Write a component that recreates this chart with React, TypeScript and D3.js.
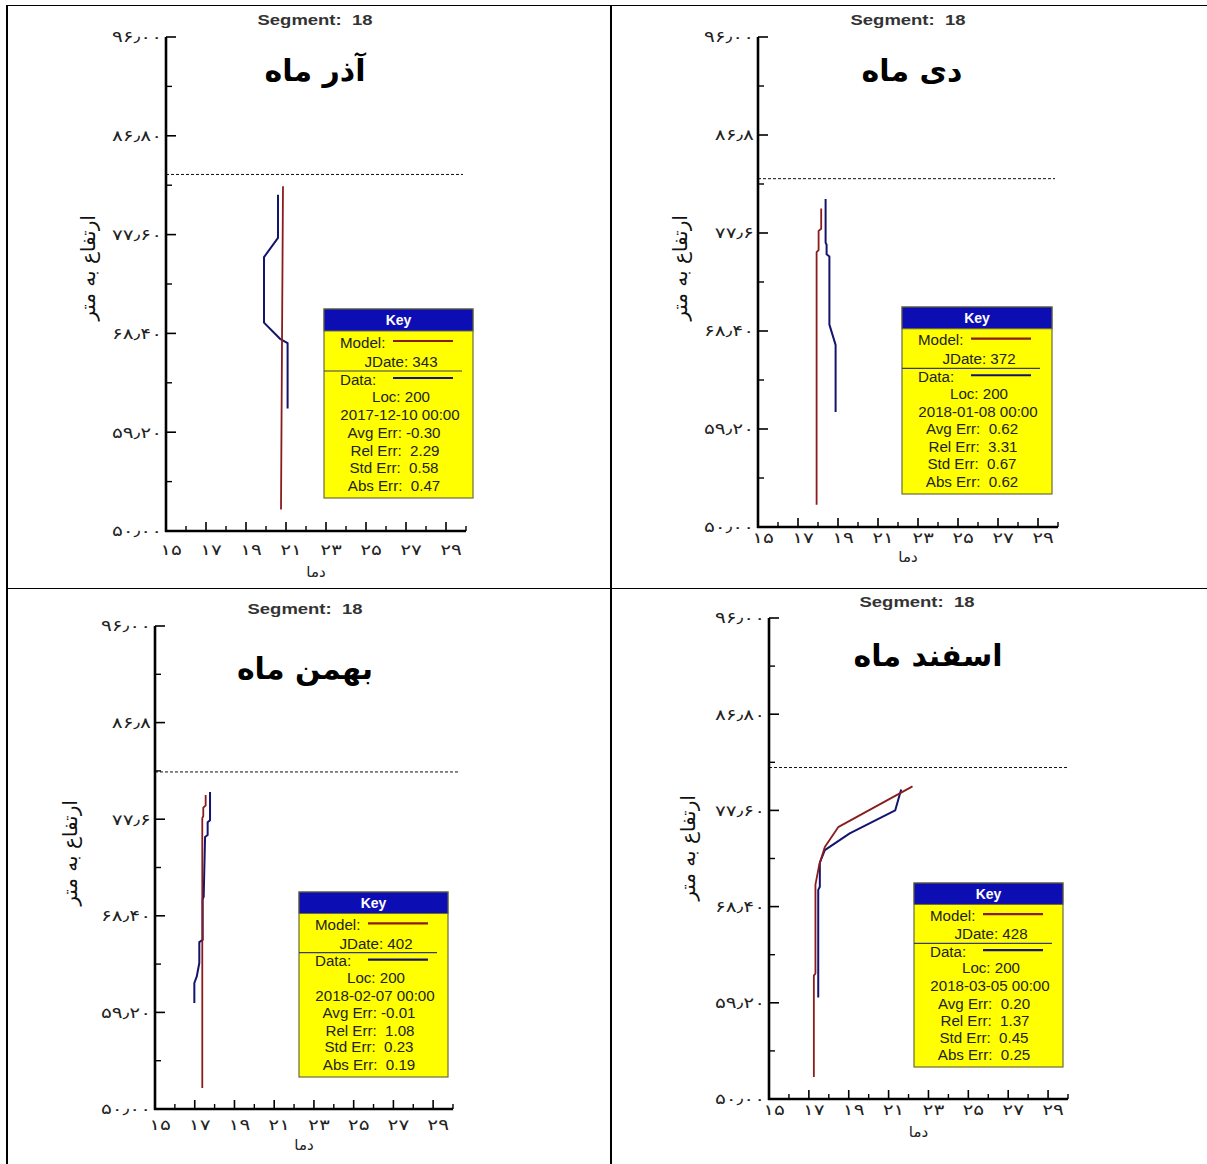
import React from 'react';
import * as d3 from 'd3';

// ---------- data ----------
const monthTitles = ['آذر ماه', 'دی ماه', 'بهمن ماه', 'اسفند ماه'];
const segmentNo = 18;
const jDates = [343, 372, 402, 428];
const locs = [200, 200, 200, 200];
const dateTimes = ['2017-12-10 00:00', '2018-01-08 00:00', '2018-02-07 00:00', '2018-03-05 00:00'];
const avgErr = ['-0.30', ' 0.62', '-0.01', ' 0.20'];
const relErr = ['2.29', '3.31', '1.08', '1.37'];
const stdErr = ['0.58', '0.67', '0.23', '0.45'];
const absErr = ['0.47', '0.62', '0.19', '0.25'];
const surfaceLevel = [83.2, 82.7, 82.1, 81.7];

const xTickValues = [15, 17, 19, 21, 23, 25, 27, 29];
const xTickLabels = ['۱۵', '۱۷', '۱۹', '۲۱', '۲۳', '۲۵', '۲۷', '۲۹'];
const xMinorValues = [16, 18, 20, 22, 24, 26, 28, 30];
const yTickValues = [50, 59.2, 68.4, 77.6, 86.8, 96];
const yMinorValues = [54.6, 63.8, 73, 82.2, 91.4];
const yTickLabelsA = ['۵۰٫۰۰', '۵۹٫۲۰', '۶۸٫۴۰', '۷۷٫۶۰', '۸۶٫۸۰', '۹۶٫۰۰'];
const yTickLabelsB = ['۵۰٫۰۰', '۵۹٫۲۰', '۶۸٫۴۰', '۷۷٫۶', '۸۶٫۸', '۹۶٫۰۰'];
const xAxisTitle = 'دما';
const yAxisTitle = 'ارتفاع به متر';

// [temperature, elevation]
const model1: [number, number][] = [[20.85, 82.1], [20.8, 67.5], [20.75, 52.0]];
const data1: [number, number][] = [[20.6, 81.3], [20.6, 77.3], [19.9, 75.5], [19.9, 69.4], [20.7, 67.9], [21.08, 67.5], [21.08, 61.4]];
const model2: [number, number][] = [[18.16, 79.9], [18.16, 78.0], [18.03, 77.8], [18.03, 76.0], [17.93, 75.8], [17.93, 52.1]];
const data2: [number, number][] = [[18.38, 80.8], [18.38, 76.7], [18.43, 76.5], [18.43, 75.6], [18.57, 75.4], [18.57, 69.0], [18.88, 67.1], [18.88, 60.8]];
const model3: [number, number][] = [[17.55, 79.9], [17.55, 78.9], [17.43, 78.7], [17.43, 77.9], [17.38, 77.7], [17.38, 52.0]];
const data3: [number, number][] = [[17.77, 80.2], [17.77, 77.5], [17.65, 77.3], [17.65, 76.1], [17.52, 75.9], [17.45, 70.2], [17.4, 70.0], [17.4, 66.1], [17.23, 65.9], [17.23, 63.9], [17.1, 62.6], [16.98, 62.0], [16.98, 60.1]];
const model4: [number, number][] = [[22.2, 79.9], [18.47, 76.0], [17.8, 74.1], [17.52, 72.4], [17.33, 70.5], [17.33, 62.0], [17.25, 61.8], [17.25, 52.1]];
const data4: [number, number][] = [[21.63, 79.6], [21.33, 77.6], [19.05, 75.4], [17.8, 73.8], [17.55, 72.6], [17.55, 70.3], [17.47, 70.0], [17.47, 59.7]];

const modelSeries = [model1, model2, model3, model4];
const dataSeries = [data1, data2, data3, data4];

// ---------- layout ----------
type Layout = {
  x0: number; x1: number; yTop: number; yBot: number; dashEnd: number;
  seg: [number, number]; title: [number, number]; ylab: [number, number];
  xlabDy: number; xtickDy: number; key: [number, number, number, number]; yLabels: string[];
};
const layouts: Layout[] = [
  { x0: 166, x1: 466, yTop: 37, yBot: 531, dashEnd: 463, seg: [315, 19], title: [315, 70], ylab: [88, 268], xlabDy: 41, xtickDy: 19, key: [324, 309, 149, 189], yLabels: yTickLabelsA },
  { x0: 758, x1: 1058, yTop: 37, yBot: 527, dashEnd: 1055, seg: [908, 19], title: [912, 70], ylab: [680, 268], xlabDy: 30, xtickDy: 11, key: [902, 307, 150, 187], yLabels: yTickLabelsB },
  { x0: 155, x1: 453, yTop: 626, yBot: 1109, dashEnd: 460, seg: [305, 608], title: [305, 668], ylab: [70, 853], xlabDy: 36, xtickDy: 16, key: [299, 892, 149, 185], yLabels: yTickLabelsB },
  { x0: 769, x1: 1068, yTop: 618, yBot: 1099, dashEnd: 1067, seg: [917, 601], title: [928, 655], ylab: [688, 848], xlabDy: 33, xtickDy: 11, key: [914, 883, 149, 184], yLabels: yTickLabelsA },
];

const MODEL_COLOR = '#8a1c1c';
const DATA_COLOR = '#14146e';
const ARIAL = '"Liberation Sans", Arial, sans-serif';
const FA = '"DejaVu Sans", sans-serif';

function Panel({ i }: { i: number }) {
  const L = layouts[i];
  const x = d3.scaleLinear().domain([15, 30]).range([L.x0, L.x1]);
  const y = d3.scaleLinear().domain([50, 96]).range([L.yBot, L.yTop]);
  const line = d3.line<[number, number]>().x(d => x(d[0])).y(d => y(d[1]));
  const [kx, ky, kw, kh] = L.key;
  const s = kh / 189;
  const row = (v: number) => ky + v * s;
  const kc = kx + 75;
  const keyText = (txt: string, yy: number, cx: number, anchor: 'middle' | 'start' = 'middle') => (
    <g transform={`translate(${cx},${yy}) scale(1.08,1)`}>
      <text x={0} y={0} fontFamily={ARIAL} fontSize={14} fill="#222" textAnchor={anchor} dominantBaseline="central" style={{ whiteSpace: 'pre' }}>{txt}</text>
    </g>
  );
  return (
    <g>
      {/* segment label */}
      <text x={L.seg[0]} y={L.seg[1]} fontFamily={ARIAL} fontWeight="bold" fontSize={15} fill="#333" textAnchor="middle" dominantBaseline="central" textLength={115} lengthAdjust="spacingAndGlyphs" style={{ whiteSpace: 'pre' }}>{`Segment:  ${segmentNo}`}</text>
      {/* month title */}
      <text x={L.title[0]} y={L.title[1]} fontFamily={FA} fontWeight="bold" fontSize={30} fill="#000" textAnchor="middle" dominantBaseline="central">{monthTitles[i]}</text>
      {/* surface dashed line */}
      <line x1={L.x0} x2={L.dashEnd} y1={y(surfaceLevel[i])} y2={y(surfaceLevel[i])} stroke="#111" strokeWidth={1} strokeDasharray="3,2" />
      {/* series */}
      <path d={line(dataSeries[i]) || ''} fill="none" stroke={DATA_COLOR} strokeWidth={2} strokeLinejoin="round" />
      <path d={line(modelSeries[i]) || ''} fill="none" stroke={MODEL_COLOR} strokeWidth={1.8} strokeLinejoin="round" />
      {/* axes */}
      <line x1={L.x0} x2={L.x0} y1={L.yTop} y2={L.yBot + 1} stroke="#000" strokeWidth={2.6} />
      <line x1={L.x0 - 1} x2={L.x1} y1={L.yBot} y2={L.yBot} stroke="#000" strokeWidth={2.6} />
      {yTickValues.map((v, k) => (
        <g key={'yt' + k}>
          <line x1={L.x0} x2={L.x0 + 10} y1={y(v)} y2={y(v)} stroke="#000" strokeWidth={1.6} />
          <g transform={`translate(${L.x0 - 4},${y(v)}) scale(1.35,1)`}>
            <text x={0} y={0} fontFamily={FA} fontSize={15} fill="#222" textAnchor="end" dominantBaseline="central">{L.yLabels[k]}</text>
          </g>
        </g>
      ))}
      {yMinorValues.map((v, k) => (
        <line key={'ym' + k} x1={L.x0} x2={L.x0 + 6} y1={y(v)} y2={y(v)} stroke="#000" strokeWidth={1.4} />
      ))}
      {xTickValues.map((v, k) => (
        <g key={'xt' + k}>
          {v > 15 && <line x1={x(v)} x2={x(v)} y1={L.yBot} y2={L.yBot - 9} stroke="#000" strokeWidth={1.6} />}
          <g transform={`translate(${x(v) + 5},${L.yBot + L.xtickDy}) scale(1.35,1)`}>
            <text x={0} y={0} fontFamily={FA} fontSize={15} fill="#222" textAnchor="middle" dominantBaseline="central">{xTickLabels[k]}</text>
          </g>
        </g>
      ))}
      {xMinorValues.map((v, k) => (
        <line key={'xm' + k} x1={x(v)} x2={x(v)} y1={L.yBot} y2={L.yBot - 5} stroke="#000" strokeWidth={1.4} />
      ))}
      {/* axis titles */}
      <text x={x(22.5)} y={L.yBot + L.xlabDy} fontFamily={FA} fontSize={15} fill="#222" textAnchor="middle" dominantBaseline="central">{xAxisTitle}</text>
      <text transform={`translate(${L.ylab[0]},${L.ylab[1]}) rotate(-90)`} fontFamily={FA} fontSize={20} fill="#111" textAnchor="middle" dominantBaseline="central">{yAxisTitle}</text>
      {/* key */}
      <rect x={kx} y={ky} width={kw} height={kh} fill="#ffff00" stroke="#6b6b3a" strokeWidth={1.2} />
      <rect x={kx} y={ky} width={kw} height={22 * s} fill="#0d0db4" stroke="#6b6b3a" strokeWidth={1} />
      <text x={kx + kw / 2} y={ky + 11 * s} fontFamily={ARIAL} fontWeight="bold" fontSize={14} fill="#fff" textAnchor="middle" dominantBaseline="central">Key</text>
      {keyText('Model:', row(34), kx + 16, 'start')}
      <line x1={kx + 69} x2={kx + 129} y1={row(32)} y2={row(32)} stroke={MODEL_COLOR} strokeWidth={2.2} />
      {keyText(`JDate: ${jDates[i]}`, row(53), kc + 2)}
      <line x1={kx} x2={kx + 138} y1={row(62)} y2={row(62)} stroke="#3a3a6a" strokeWidth={1.2} />
      {keyText('Data:', row(71), kx + 16, 'start')}
      <line x1={kx + 69} x2={kx + 129} y1={row(69)} y2={row(69)} stroke={DATA_COLOR} strokeWidth={2.2} />
      {keyText(`Loc: ${locs[i]}`, row(88), kc + 2)}
      {keyText(dateTimes[i], row(106), kc + 1)}
      {keyText(`Avg Err: ${avgErr[i]}`, row(124), kc - 5)}
      {keyText(`Rel Err:  ${relErr[i]}`, row(142), kc - 4)}
      {keyText(`Std Err:  ${stdErr[i]}`, row(159), kc - 5)}
      {keyText(`Abs Err:  ${absErr[i]}`, row(177), kc - 5)}
    </g>
  );
}

export default function App() {
  return (
    <svg width={1207} height={1164} style={{ position: 'absolute', left: 0, top: 0, background: '#fff' }}>
      <rect x={0} y={0} width={1207} height={1164} fill="#fff" />
      {/* table borders */}
      <line x1={6} x2={1207} y1={5.5} y2={5.5} stroke="#000" strokeWidth={1} />
      <line x1={7} x2={7} y1={5} y2={1164} stroke="#000" strokeWidth={2} />
      <line x1={611} x2={611} y1={5} y2={1164} stroke="#000" strokeWidth={2} />
      <line x1={7} x2={1207} y1={588.5} y2={588.5} stroke="#000" strokeWidth={1} />
      {[0, 1, 2, 3].map(i => <Panel key={i} i={i} />)}
    </svg>
  );
}
